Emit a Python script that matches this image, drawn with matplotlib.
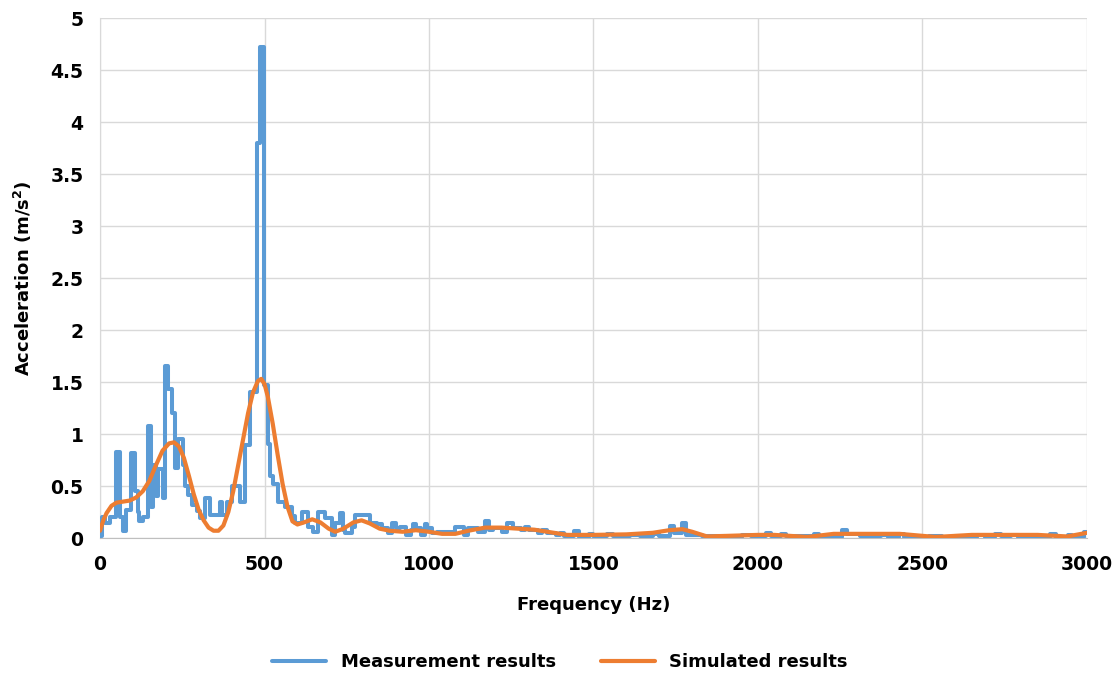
import numpy as np
import matplotlib.pyplot as plt

meas_freq = [0, 5, 15, 30, 50, 60, 70, 80, 95, 105, 115, 120, 130, 145, 155, 160, 170, 175,
             190, 197, 208, 218, 228, 238, 253, 258, 268, 279, 294, 304, 319, 334, 365, 372,
             385, 400, 426, 441, 456, 476, 486, 497, 510, 517, 527, 540, 562, 583, 593, 613,
             633, 648, 664, 684, 704, 714, 729, 740, 745, 765, 775, 821, 841, 856, 876, 887,
             900, 912, 930, 945, 952, 960, 975, 988, 995, 1010, 1024, 1079, 1105, 1119, 1150,
             1171, 1181, 1195, 1221, 1236, 1255, 1280, 1292, 1305, 1330, 1345, 1360, 1385,
             1398, 1410, 1440, 1455, 1485, 1500, 1540, 1560, 1610, 1640, 1680, 1700, 1733,
             1745, 1768, 1780, 1830, 1900, 1950, 1980, 2025, 2040, 2070, 2085, 2170, 2185,
             2255, 2270, 2310, 2375, 2395, 2428, 2445, 2520, 2560, 2600, 2620, 2665, 2690,
             2720, 2740, 2770, 2790, 2888, 2905, 2943, 2955, 2990, 3000]
meas_acc = [0.02, 0.20, 0.14, 0.20, 0.83, 0.20, 0.07, 0.27, 0.82, 0.45, 0.25, 0.16, 0.20, 1.08,
            0.30, 0.70, 0.40, 0.66, 0.38, 1.65, 1.43, 1.20, 0.67, 0.95, 0.70, 0.50, 0.41, 0.32,
            0.26, 0.19, 0.38, 0.22, 0.35, 0.22, 0.35, 0.50, 0.35, 0.89, 1.40, 3.80, 4.72, 1.47,
            0.90, 0.60, 0.52, 0.35, 0.30, 0.21, 0.14, 0.25, 0.11, 0.06, 0.25, 0.19, 0.03, 0.14,
            0.24, 0.08, 0.05, 0.11, 0.22, 0.14, 0.13, 0.10, 0.05, 0.14, 0.10, 0.11, 0.03, 0.08,
            0.13, 0.10, 0.03, 0.13, 0.10, 0.05, 0.06, 0.11, 0.03, 0.10, 0.06, 0.16, 0.08, 0.10,
            0.06, 0.14, 0.10, 0.08, 0.11, 0.08, 0.05, 0.08, 0.05, 0.03, 0.05, 0.02, 0.065, 0.01,
            0.04, 0.02, 0.04, 0.02, 0.03, 0.02, 0.035, 0.02, 0.12, 0.05, 0.14, 0.03, 0.02, 0.01,
            0.03, 0.02, 0.05, 0.02, 0.04, 0.015, 0.04, 0.01, 0.08, 0.04, 0.015, 0.03, 0.01,
            0.04, 0.01, 0.02, 0.01, 0.02, 0.01, 0.03, 0.01, 0.04, 0.02, 0.03, 0.01, 0.04, 0.01,
            0.03, 0.01, 0.055, 0.055]

# simulated response
sim_freq = [0, 10, 20, 35, 50, 70, 90, 110, 130, 150, 170, 190, 210, 225, 240, 255, 270, 285,
            300, 315, 330, 345, 360, 375, 390, 405, 420, 435, 450, 465, 480, 490, 500, 510,
            525, 540, 555, 570, 585, 600, 620, 645, 670, 695, 715, 740, 770, 795, 820, 850,
            880, 920, 960, 1000, 1040, 1080, 1120, 1170, 1220, 1270, 1320, 1380, 1420, 1500,
            1600, 1680, 1730, 1770, 1800, 1845, 1900, 2000, 2050, 2150, 2230, 2300, 2430,
            2540, 2650, 2850, 2940, 3000]
sim_acc = [0.07, 0.17, 0.24, 0.31, 0.34, 0.35, 0.36, 0.39, 0.45, 0.55, 0.70, 0.84, 0.91, 0.92,
           0.88, 0.77, 0.60, 0.42, 0.27, 0.17, 0.10, 0.07, 0.07, 0.12, 0.25, 0.45, 0.70, 0.95,
           1.20, 1.40, 1.51, 1.53, 1.48, 1.36, 1.10, 0.80, 0.52, 0.30, 0.16, 0.13, 0.15, 0.18,
           0.15, 0.09, 0.06, 0.09, 0.15, 0.17, 0.14, 0.09, 0.07, 0.06, 0.075, 0.06, 0.04, 0.04,
           0.07, 0.10, 0.10, 0.09, 0.08, 0.05, 0.03, 0.03, 0.035, 0.05, 0.075, 0.085, 0.06,
           0.015, 0.02, 0.03, 0.03, 0.01, 0.04, 0.04, 0.04, 0.01, 0.03, 0.03, 0.015, 0.05]

x_ticks = [0, 500, 1000, 1500, 2000, 2500, 3000]
y_ticks = [0, 0.5, 1, 1.5, 2, 2.5, 3, 3.5, 4, 4.5, 5]
y_tick_labels = ['0', '0.5', '1', '1.5', '2', '2.5', '3', '3.5', '4', '4.5', '5']

fig = plt.figure(figsize=(11.2, 6.77), dpi=100)
ax = fig.add_axes([0.0893, 0.2053, 0.8812, 0.7681])

ax.plot(meas_freq, meas_acc, drawstyle='steps-post', color='#5B9BD5', lw=2.9,
        solid_joinstyle='round', solid_capstyle='round', label='Measurement results', zorder=3)
ax.plot(sim_freq, sim_acc, color='#ED7D31', lw=3.0, solid_joinstyle='round',
        solid_capstyle='round', label='Simulated results', zorder=4)

ax.set_xlim(0, 3000)
ax.set_ylim(0, 5)
ax.set_xticks(x_ticks)
ax.set_yticks(y_ticks)
ax.set_yticklabels(y_tick_labels)
ax.grid(True, color='#D9D9D9', lw=1.0)
ax.set_axisbelow(True)
for s in ['top', 'right']:
    ax.spines[s].set_visible(False)
ax.spines['left'].set_color('#D9D9D9')
ax.spines['bottom'].set_color('#BFBFBF')
ax.tick_params(length=0, labelsize=13.5, pad=12)
for lab in ax.get_xticklabels() + ax.get_yticklabels():
    lab.set_fontweight('bold')

ax.set_xlabel('Frequency (Hz)', fontsize=13, fontweight='bold', labelpad=16)
ax.set_ylabel('Acceleration (m/s$^\\mathbf{2}$)', fontsize=13, fontweight='bold', labelpad=12)

leg = fig.legend(loc='lower center', bbox_to_anchor=(0.5, -0.015), ncol=2, frameon=False,
                 prop={'size': 13, 'weight': 'bold'}, handlelength=3.0, columnspacing=2.5)

fig.savefig('out.png', dpi=100)
